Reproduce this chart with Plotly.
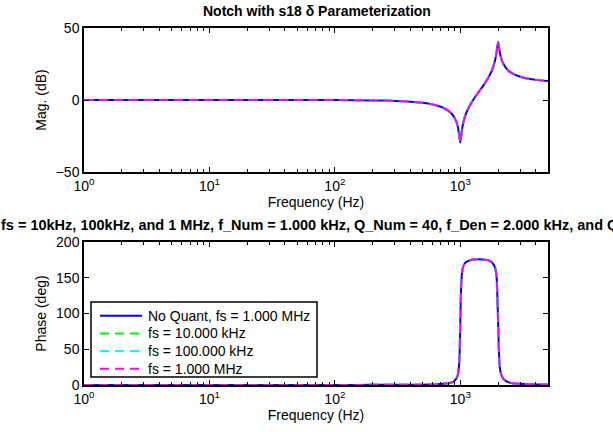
import plotly.graph_objects as go
from plotly.subplots import make_subplots

# Frequency points (Hz)
freq_hz = [1, 2, 5, 10, 20, 50, 100, 200, 300, 400, 500, 600, 700, 800, 850, 900, 950,
           980, 1000, 1020, 1050, 1100, 1200, 1300, 1400, 1500, 1600, 1700, 1800, 1900,
           1950, 2000, 2050, 2100, 2200, 2400, 2600, 3000, 3500, 4000, 5000]

# Magnitude (dB)
mag_db = [0.0, 0.0, 0.0, 0.0, 0.0, 0.0, -0.07, -0.27, -0.62, -1.16, -1.94, -3.06, -4.71,
          -7.36, -9.4, -12.4, -17.75, -24.25, -29.5, -23.8, -16.7, -10.35, -3.24, 1.55,
          5.49, 9.12, 12.74, 16.66, 21.34, 28.19, 33.75, 40.5, 34.6, 30.04, 25.13, 20.68,
          18.43, 16.12, 14.74, 13.98, 13.2]

# Phase (deg)
phase_deg = [0.0, 0.0, 0.0, 0.0, 0.0, 0.05, 0.1, 0.2, 0.3, 0.4, 0.5, 0.8, 1.3, 2.35, 3.5,
             5.8, 12.6, 30.6, 88.8, 146.5, 164.4, 171.2, 174.5, 175.6, 175.8, 175.6, 175.0,
             173.8, 171.0, 162.9, 148.4, 89.4, 31.0, 16.7, 8.6, 4.0, 2.6, 1.65, 1.1, 0.78, 0.53]

series_names = ["No Quant, fs = 1.000 MHz", "fs = 10.000 kHz", "fs = 100.000 kHz", "fs = 1.000 MHz"]
series_colors = ["#0000ff", "#00ff00", "#00ffff", "#ff00ff"]
series_dash = ["solid", "9px,6px", "9px,6px", "9px,6px"]

x_tickvals = [1, 10, 100, 1000]
x_ticktext = ["10<sup>0</sup>", "10<sup>1</sup>", "10<sup>2</sup>", "10<sup>3</sup>"]
x_minor_vals = [2, 3, 4, 5, 6, 7, 8, 9, 20, 30, 40, 50, 60, 70, 80, 90,
                200, 300, 400, 500, 600, 700, 800, 900, 2000, 3000, 4000]

title_main = "Notch with s18 δ Parameterization"
title_sub = ("fs = 10kHz, 100kHz, and 1 MHz, f_Num = 1.000 kHz, Q_Num = 40, "
             "f_Den = 2.000 kHz, and Q_Den = 33")

W, H = 613, 432
L, R, T, B = 84, 65, 28, 47
PW, PH = W - L - R, H - T - B


def px_x(px):
    return (px - L) / PW


def px_y(py):
    return (H - B - py) / PH


fig = make_subplots(rows=2, cols=1)

for name, col, dash in zip(series_names, series_colors, series_dash):
    for row, yvals in ((1, mag_db), (2, phase_deg)):
        fig.add_trace(go.Scatter(x=freq_hz, y=yvals, mode="lines", name=name,
                                 line=dict(color=col, width=2, dash=dash, shape="spline", smoothing=0.6),
                                 showlegend=False), row=row, col=1)

font_family = "Liberation Sans, Arial, Helvetica, sans-serif"
FS = 14

xaxis_common = dict(type="log", range=[0, 3.69897], tickvals=x_tickvals, ticktext=x_ticktext,
                    ticks="inside", ticklen=5, tickcolor="black", mirror="ticks",
                    showline=True, linecolor="black", linewidth=1.5, showgrid=False,
                    zeroline=False, tickfont=dict(size=FS, color="black"),
                    minor=dict(tickvals=x_minor_vals, ticks="inside", ticklen=3,
                               tickcolor="black", showgrid=False),
                    title=dict(text="Frequency (Hz)", font=dict(size=FS, color="black"), standoff=2))

yaxis_common = dict(ticks="inside", ticklen=5, tickcolor="black", mirror="ticks",
                    showline=True, linecolor="black", linewidth=1.5, showgrid=False,
                    zeroline=False, tickfont=dict(size=FS, color="black"))

fig.update_layout(
    width=W, height=H,
    paper_bgcolor="white", plot_bgcolor="white",
    font=dict(family=font_family, color="black", size=FS),
    margin=dict(l=L, r=R, t=T, b=B),
    xaxis=dict(domain=[0, 1], anchor="y", **xaxis_common),
    xaxis2=dict(domain=[0, 1], anchor="y2", **xaxis_common),
    yaxis=dict(domain=[px_y(172), 1], range=[-50, 50], tickvals=[-50, 0, 50],
               title=dict(text="Mag. (dB)", font=dict(size=FS, color="black"), standoff=6),
               **yaxis_common),
    yaxis2=dict(domain=[0, px_y(242)], range=[0, 200], tickvals=[0, 50, 100, 150, 200],
                title=dict(text="Phase (deg)", font=dict(size=FS, color="black"), standoff=6),
                **yaxis_common),
    showlegend=False,
)

# Titles
fig.add_annotation(text="<b>" + title_main + "</b>", xref="paper", yref="paper",
                   x=px_x(317), y=px_y(11), showarrow=False, xanchor="center", yanchor="middle",
                   font=dict(size=FS, color="black"))
fig.add_annotation(text="<b>" + title_sub + "</b>", xref="paper", yref="paper",
                   x=px_x(-1), y=px_y(225), showarrow=False, xanchor="left", yanchor="middle",
                   font=dict(size=14.5, color="black"))

# Legend (drawn as box, sample lines and text)
fig.add_shape(type="rect", xref="paper", yref="paper",
              x0=px_x(91), x1=px_x(317), y0=px_y(377), y1=px_y(302),
              line=dict(color="black", width=1.5), fillcolor="white", layer="above")
legend_rows_y = [315.7, 333.4, 351.1, 368.8]
for name, col, dash, ry in zip(series_names, series_colors, series_dash, legend_rows_y):
    fig.add_shape(type="line", xref="paper", yref="paper",
                  x0=px_x(100), x1=px_x(142), y0=px_y(ry), y1=px_y(ry),
                  line=dict(color=col, width=2, dash=dash), layer="above")
    fig.add_annotation(text=name, xref="paper", yref="paper", x=px_x(146), y=px_y(ry),
                       showarrow=False, xanchor="left", yanchor="middle",
                       font=dict(size=FS, color="black"))

fig.write_html("out.html", post_script="document.body.style.margin='0';",
               config={"displayModeBar": False})
